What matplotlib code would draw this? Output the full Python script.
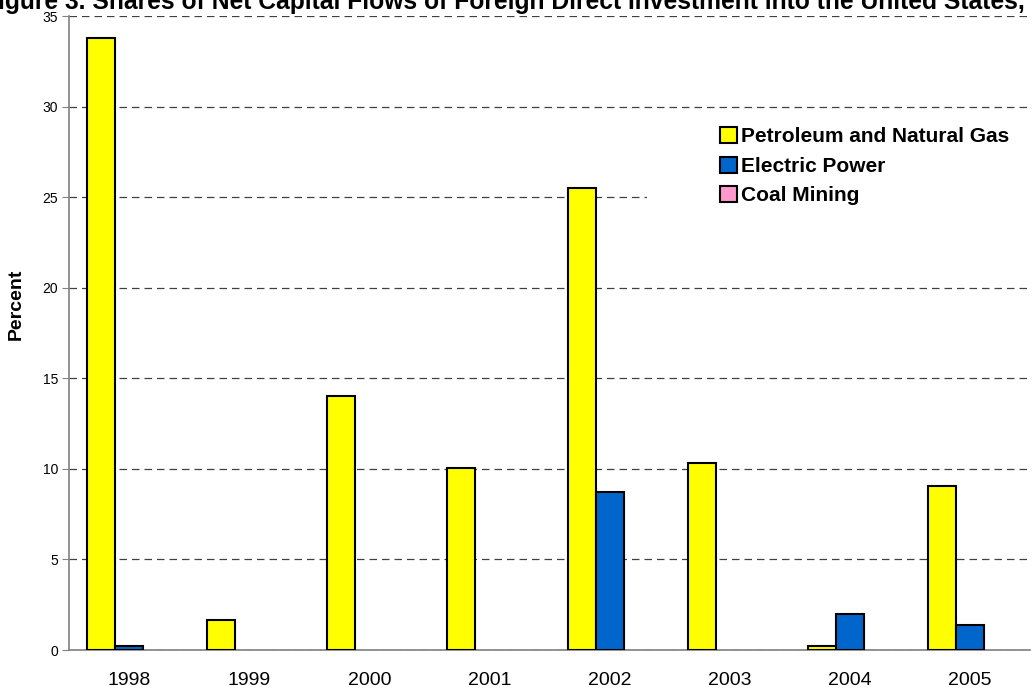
import matplotlib
matplotlib.use("Agg")
import matplotlib.pyplot as plt
from matplotlib.patches import Rectangle, Patch
import numpy as np

plt.rcParams['font.family'] = ['Liberation Sans', 'DejaVu Sans']

years = ["1998", "1999", "2000", "2001", "2002", "2003", "2004", "2005"]
petroleum = [33.8, 1.65, 14.0, 10.05, 25.5, 10.3, 0.2, 9.05]
electric = [0.2, 0.0, 0.0, 0.0, 8.75, 0.0, 2.0, 1.4]
coal = [0.0, 0.0, 0.0, 0.0, 0.0, 0.0, 0.0, 0.0]
series_names = ["Petroleum and Natural Gas", "Electric Power", "Coal Mining"]
colors = ["#FFFF00", "#0066CC", "#FF99CC"]

fig = plt.figure(figsize=(10.33, 6.92), dpi=100)
W, H = 1033, 692
ax_l, ax_r, ax_t, ax_b = 69, 1030, 16, 650
ax = fig.add_axes([ax_l / W, 1 - ax_b / H, (ax_r - ax_l) / W, (ax_b - ax_t) / H])

def px_to_axes(px, py):
    return (px - ax_l) / (ax_r - ax_l), (ax_b - py) / (ax_b - ax_t)

x = np.arange(len(years))
bw = 0.233
handles = []
for i, (vals, name, c) in enumerate(zip([petroleum, electric, coal], series_names, colors)):
    bars = ax.bar(x + (i - 1) * bw, vals, width=bw, color=c, edgecolor="black",
                  linewidth=1.5, zorder=3)
    for b, v in zip(bars, vals):
        if v == 0:
            b.set_visible(False)
    handles.append(Patch(facecolor=c, edgecolor="black", linewidth=1.5, label=name))

ax.set_xlim(-0.5, 7.5)
ax.set_ylim(0, 35)
ax.set_yticks(np.arange(0, 36, 5))
ax.set_xticks(x)
ax.set_xticklabels(years, fontsize=14)
ax.tick_params(axis='x', length=0, pad=16)
ax.tick_params(axis='y', labelsize=10, length=5, color="#808080", direction='out', pad=3)
ax.yaxis.grid(True, linestyle=(0, (6, 4)), color="#404040", linewidth=0.9)
ax.set_axisbelow(True)
for s in ["top", "right"]:
    ax.spines[s].set_visible(False)
for s in ["left", "bottom"]:
    ax.spines[s].set_color("#808080")
    ax.spines[s].set_linewidth(1.2)

ax.set_ylabel("Percent", fontsize=14, fontweight="bold")
lx, ly = px_to_axes(25, 304)
ax.yaxis.set_label_coords(lx, ly)

# white legend area covering the gridline
rx0, ry0 = px_to_axes(647, 215)
rx1, ry1 = px_to_axes(1030, 115)
ax.add_patch(Rectangle((rx0, ry0), rx1 - rx0, ry1 - ry0, transform=ax.transAxes,
                       facecolor="white", edgecolor="none", zorder=2))

bx, by = px_to_axes(720, 127)
leg = ax.legend(handles=handles, loc="upper left", bbox_to_anchor=(bx, by),
                frameon=False, prop={'weight': 'bold', 'size': 15},
                handlelength=0.8, handleheight=0.8, handletextpad=0.2, labelspacing=0.5,
                borderpad=0, borderaxespad=0)
leg.set_zorder(5)

fig.text(504 / W, 1 - 9 / H, "Figure 3. Shares of Net Capital Flows of Foreign Direct Investment into the United States,",
         ha="center", va="baseline", fontsize=17.7, fontweight="bold")

fig.savefig("out.png", dpi=100)
